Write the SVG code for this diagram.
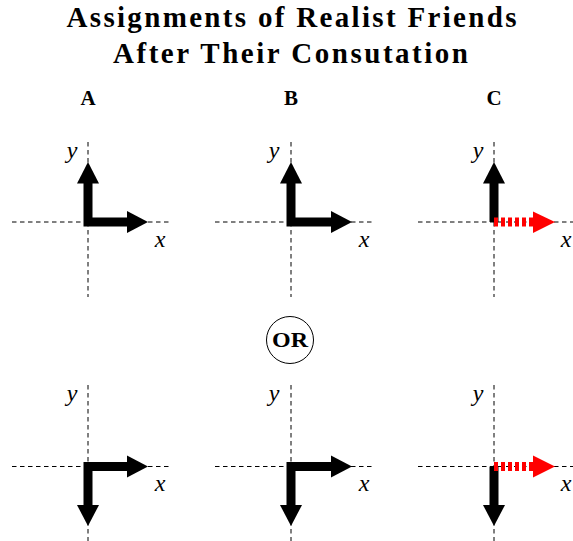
<svg xmlns="http://www.w3.org/2000/svg" width="573" height="541" viewBox="0 0 573 541">
<style>
.title{font-family:"Liberation Serif",serif;font-weight:bold;font-size:29px;fill:#000;text-anchor:middle}
.lbl{font-family:"Liberation Serif",serif;font-weight:bold;font-size:21px;fill:#000;text-anchor:middle}
.ax{font-family:"Liberation Serif",serif;font-style:italic;font-size:24px;fill:#000;text-anchor:middle}
.axis{stroke:#000;stroke-width:1;stroke-dasharray:4.5 3.5;fill:none}
.shaft{stroke:#000;stroke-width:9;fill:none;stroke-linejoin:miter}
.head{fill:#000}
.rshaft{stroke:#ff0000;stroke-width:9;fill:none;stroke-dasharray:4 3}
.rhead{fill:#ff0000}
</style>
<rect width="573" height="541" fill="#fff"/>
<g id="title">
<text class="title" x="291.5" y="27" textLength="450" lengthAdjust="spacing">Assignments of Realist Friends</text>
<text class="title" x="290.5" y="63" textLength="355" lengthAdjust="spacing">After Their Consutation</text>
</g>
<g id="labels">
<text class="lbl" x="88" y="105">A</text>
<text class="lbl" x="291" y="105">B</text>
<text class="lbl" x="494" y="105">C</text>
</g>
<g id="axes">
<path class="axis" d="M12,222 H170 M88,142 V297"/>
<path class="axis" d="M215,222 H373 M291,142 V297"/>
<path class="axis" d="M418,222 H573 M494,142 V297"/>
<path class="axis" d="M12,466.5 H170 M88,385 V541"/>
<path class="axis" d="M215,466.5 H373 M291,385 V541"/>
<path class="axis" d="M418,466.5 H573 M494,385 V541"/>
<text class="ax" x="72" y="158">y</text><text class="ax" x="160" y="247">x</text>
<text class="ax" x="274" y="158">y</text><text class="ax" x="364" y="247">x</text>
<text class="ax" x="478" y="158">y</text><text class="ax" x="566" y="247">x</text>
<text class="ax" x="72" y="401">y</text><text class="ax" x="160" y="491">x</text>
<text class="ax" x="274" y="401">y</text><text class="ax" x="364" y="491">x</text>
<text class="ax" x="478" y="401">y</text><text class="ax" x="566" y="491">x</text>
</g>
<g id="panelA-top">
<path class="shaft" d="M88,182 V222 H128"/>
<polygon class="head" points="77,183.5 99,183.5 88,162"/>
<polygon class="head" points="127,211 127,233 148,222"/>
</g>
<g id="panelB-top">
<path class="shaft" d="M291,182 V222 H332"/>
<polygon class="head" points="280,183.5 302,183.5 291,162"/>
<polygon class="head" points="331,211 331,233 352,222"/>
</g>
<g id="panelC-top">
<path class="shaft" d="M494,182 V222"/>
<polygon class="head" points="483,183.5 505,183.5 494,162"/>
<path class="rshaft" d="M494,222 H533"/>
<polygon class="rhead" points="533,211.5 533,233 555,222"/>
</g>
<g id="or">
<circle cx="290" cy="340" r="23.5" fill="none" stroke="#000" stroke-width="1"/>
<text class="lbl" x="290" y="347" style="font-size:21px" textLength="36" lengthAdjust="spacingAndGlyphs">OR</text>
</g>
<g id="panelA-bottom">
<path class="shaft" d="M88,506 V466.5 H128"/>
<polygon class="head" points="77,505 99,505 88,526"/>
<polygon class="head" points="127,455.5 127,477.5 148,466.5"/>
</g>
<g id="panelB-bottom">
<path class="shaft" d="M291,506 V466.5 H332"/>
<polygon class="head" points="280,505 302,505 291,526"/>
<polygon class="head" points="331,455.5 331,477.5 352,466.5"/>
</g>
<g id="panelC-bottom">
<path class="shaft" d="M494,506 V466.5"/>
<polygon class="head" points="483,505 505,505 494,526"/>
<path class="rshaft" d="M494,466.5 H533"/>
<polygon class="rhead" points="533,455.5 533,477.5 555,466.5"/>
</g>
</svg>
